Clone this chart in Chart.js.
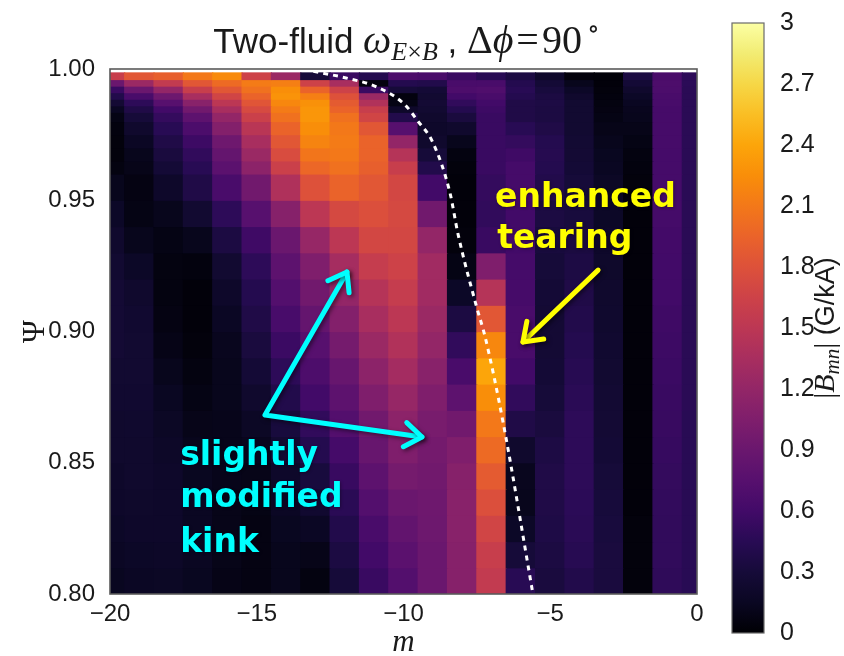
<!DOCTYPE html>
<html>
<head>
<meta charset="utf-8">
<title>Two-fluid B_mn spectrum</title>
<script src="https://cdn.jsdelivr.net/npm/chart.js@4.4.1/dist/chart.umd.min.js"></script>
<style>
  html, body { margin: 0; padding: 0; background: #fff; }
  #wrap { position: relative; width: 844px; height: 656px; }
  #main { position: absolute; left: 0; top: 0; }
  #cbar { position: absolute; left: 715px; top: 0; }
</style>
</head>
<body>
<div id="wrap">
  <canvas id="main" width="715" height="656"></canvas>
  <canvas id="cbar" width="129" height="656"></canvas>
</div>
<script>
// poloidal mode numbers (one column each)
const M_VALUES = [-20, -19, -18, -17, -16, -15, -14, -13, -12, -11, -10, -9, -8, -7, -6, -5, -4, -3, -2, -1, 0];

// radial cell edges, top -> bottom (finer near the edge)
const PSI_EDGES = [0.9985, 0.996, 0.9935, 0.991, 0.9885, 0.986, 0.9835, 0.98, 0.975, 0.97, 0.965, 0.96,
  0.95, 0.94, 0.93, 0.92, 0.91, 0.90, 0.89, 0.88, 0.87, 0.86, 0.85, 0.84, 0.83, 0.82, 0.81, 0.80];

// |B_mn| (G/kA), one row per m, cells top -> bottom
const BMN = [
  [1.6, 0.9, 0.55, 0.4, 0.27, 0.15, 0.08, 0.05, 0.04, 0.04, 0.06, 0.12, 0.18, 0.22, 0.25, 0.27, 0.27, 0.27, 0.25, 0.24, 0.22, 0.22, 0.2, 0.2, 0.18, 0.16, 0.14],   // -20
  [1.85, 1.25, 0.9, 0.65, 0.48, 0.38, 0.3, 0.22, 0.16, 0.12, 0.1, 0.07, 0.08, 0.12, 0.18, 0.22, 0.24, 0.25, 0.25, 0.24, 0.23, 0.22, 0.22, 0.21, 0.2, 0.18, 0.16], // -19
  [1.92, 1.55, 1.2, 0.92, 0.75, 0.6, 0.52, 0.45, 0.38, 0.33, 0.28, 0.2, 0.12, 0.08, 0.06, 0.06, 0.07, 0.09, 0.12, 0.15, 0.17, 0.19, 0.2, 0.2, 0.2, 0.19, 0.17],  // -18
  [2.1, 1.85, 1.6, 1.35, 1.12, 0.95, 0.8, 0.67, 0.57, 0.5, 0.45, 0.38, 0.25, 0.12, 0.05, 0.03, 0.03, 0.04, 0.06, 0.08, 0.1, 0.12, 0.14, 0.15, 0.15, 0.15, 0.14],  // -17
  [2.22, 2.0, 1.85, 1.68, 1.5, 1.35, 1.2, 1.08, 0.93, 0.85, 0.78, 0.65, 0.48, 0.35, 0.25, 0.2, 0.16, 0.13, 0.12, 0.12, 0.11, 0.11, 0.11, 0.1, 0.1, 0.1, 0.09],   // -16
  [1.65, 2.12, 2.05, 1.95, 1.83, 1.73, 1.62, 1.48, 1.35, 1.25, 1.15, 0.95, 0.75, 0.58, 0.48, 0.42, 0.38, 0.33, 0.28, 0.22, 0.17, 0.13, 0.1, 0.08, 0.07, 0.07, 0.07], // -15
  [1.25, 2.15, 2.25, 2.28, 2.2, 2.12, 2.05, 1.95, 1.85, 1.75, 1.62, 1.4, 1.1, 0.9, 0.8, 0.72, 0.64, 0.56, 0.48, 0.4, 0.32, 0.25, 0.2, 0.16, 0.14, 0.12, 0.12],    // -14
  [0.3, 1.65, 1.95, 2.15, 2.27, 2.3, 2.3, 2.25, 2.18, 2.08, 1.98, 1.8, 1.5, 1.22, 1.05, 0.95, 0.85, 0.75, 0.68, 0.6, 0.5, 0.42, 0.32, 0.24, 0.16, 0.1, 0.06],     // -13
  [0.55, 1.35, 1.65, 1.8, 1.88, 1.95, 2.05, 2.1, 2.12, 2.1, 2.05, 1.95, 1.72, 1.5, 1.33, 1.2, 1.08, 0.98, 0.88, 0.8, 0.72, 0.62, 0.54, 0.46, 0.4, 0.35, 0.3],    // -12
  [0.42, 0.05, 0.55, 1.25, 1.42, 1.6, 1.68, 1.85, 1.95, 1.95, 1.92, 1.85, 1.78, 1.7, 1.58, 1.45, 1.35, 1.25, 1.15, 1.05, 0.95, 0.88, 0.8, 0.72, 0.65, 0.6, 0.55], // -11
  [0.68, 0.42, 0.3, 0.05, 0.08, 0.2, 0.4, 0.75, 1.2, 1.45, 1.6, 1.7, 1.72, 1.7, 1.65, 1.58, 1.5, 1.42, 1.32, 1.22, 1.15, 1.05, 0.98, 0.9, 0.84, 0.78, 0.72],     // -10
  [0.65, 0.4, 0.28, 0.25, 0.27, 0.25, 0.22, 0.2, 0.22, 0.3, 0.4, 0.6, 0.95, 1.2, 1.3, 1.3, 1.25, 1.2, 1.12, 1.05, 1.0, 0.97, 0.95, 0.93, 0.92, 0.9, 0.9],        // -9
  [0.55, 0.65, 0.68, 0.6, 0.5, 0.42, 0.33, 0.22, 0.12, 0.06, 0.04, 0.03, 0.03, 0.04, 0.08, 0.18, 0.35, 0.5, 0.65, 0.8, 0.95, 1.05, 1.1, 1.12, 1.12, 1.1, 1.1],   // -8
  [0.45, 0.65, 0.7, 0.65, 0.6, 0.57, 0.55, 0.55, 0.55, 0.55, 0.55, 0.52, 0.5, 0.55, 1.05, 1.45, 1.85, 2.2, 2.4, 2.25, 2.1, 2.0, 1.88, 1.78, 1.68, 1.6, 1.55],   // -7
  [0.35, 0.42, 0.45, 0.42, 0.38, 0.38, 0.38, 0.45, 0.52, 0.58, 0.62, 0.62, 0.6, 0.6, 0.62, 0.63, 0.65, 0.65, 0.6, 0.5, 0.38, 0.22, 0.13, 0.12, 0.18, 0.3, 0.45], // -6
  [0.2, 0.28, 0.32, 0.35, 0.36, 0.35, 0.35, 0.38, 0.42, 0.43, 0.42, 0.4, 0.35, 0.32, 0.3, 0.28, 0.27, 0.27, 0.28, 0.3, 0.33, 0.36, 0.38, 0.38, 0.37, 0.35, 0.33], // -5
  [0.03, 0.12, 0.18, 0.22, 0.25, 0.25, 0.25, 0.25, 0.26, 0.27, 0.28, 0.3, 0.32, 0.34, 0.36, 0.38, 0.4, 0.42, 0.44, 0.46, 0.48, 0.48, 0.48, 0.47, 0.46, 0.44, 0.4], // -4
  [0.02, 0.03, 0.04, 0.05, 0.06, 0.07, 0.08, 0.1, 0.12, 0.14, 0.15, 0.17, 0.18, 0.2, 0.21, 0.22, 0.23, 0.24, 0.25, 0.26, 0.27, 0.28, 0.3, 0.31, 0.32, 0.33, 0.33], // -3
  [0.35, 0.28, 0.22, 0.18, 0.15, 0.13, 0.12, 0.1, 0.08, 0.06, 0.05, 0.04, 0.03, 0.03, 0.03, 0.03, 0.03, 0.03, 0.03, 0.03, 0.03, 0.03, 0.03, 0.03, 0.04, 0.04, 0.04], // -2
  [0.65, 0.68, 0.67, 0.65, 0.64, 0.63, 0.63, 0.63, 0.63, 0.62, 0.62, 0.62, 0.62, 0.61, 0.6, 0.6, 0.58, 0.57, 0.56, 0.55, 0.54, 0.53, 0.52, 0.51, 0.5, 0.5, 0.49], // -1
  [0.48, 0.47, 0.46, 0.46, 0.46, 0.46, 0.46, 0.46, 0.46, 0.46, 0.46, 0.46, 0.46, 0.46, 0.46, 0.46, 0.46, 0.46, 0.46, 0.46, 0.45, 0.45, 0.45, 0.45, 0.45, 0.45, 0.45]  // 0
];

// dashed resonance curve
const CURVE_M   = [-13.07, -11.96, -10.9, -9.98, -9.5, -9.0, -8.42, -8.14, -7.5, -7.22, -6.6, -5.59];
const CURVE_PSI = [0.9991, 0.9966, 0.9931, 0.9867, 0.980, 0.972, 0.953, 0.937, 0.909, 0.898, 0.865, 0.800];

const X_TICKS = [-20, -15, -10, -5, 0];
const Y_TICKS = [0.80, 0.85, 0.90, 0.95, 1.00];
const CB_TICKS = [0, 0.3, 0.6, 0.9, 1.2, 1.5, 1.8, 2.1, 2.4, 2.7, 3];
const CB_MAX = 3;

const SANS = "'Liberation Sans', Arial, sans-serif";
const SERIF = "'Liberation Serif', 'DejaVu Serif', serif";
const BOLD = "'DejaVu Sans', sans-serif";
const INK = '#1a1a1a';

// inferno colormap anchors, t = 0 .. 1 in steps of 0.05
const INFERNO = [
  [0, 0, 4], [10, 7, 34], [22, 11, 57], [40, 11, 84], [66, 10, 104], [87, 16, 110], [106, 23, 110],
  [127, 30, 108], [147, 38, 103], [168, 46, 95], [188, 55, 84], [205, 66, 72], [221, 81, 58],
  [234, 99, 42], [243, 120, 25], [249, 142, 9], [252, 165, 10], [250, 190, 36], [246, 215, 70],
  [242, 236, 115], [252, 255, 164]
];

function inferno(t) {
  t = Math.min(1, Math.max(0, t));
  const f = t * (INFERNO.length - 1);
  const i = Math.min(INFERNO.length - 2, Math.floor(f));
  const k = f - i;
  const a = INFERNO[i], b = INFERNO[i + 1];
  const c = a.map((v, j) => Math.round(v + (b[j] - v) * k));
  return `rgb(${c[0]},${c[1]},${c[2]})`;
}

// draws a run of differently styled pieces of text, centred on cx
function drawRich(ctx, parts, cx, baseline) {
  let total = 0;
  parts.forEach(p => {
    ctx.font = p.font;
    p.w = ctx.measureText(p.text).width;
    total += p.w + (p.gap || 0);
  });
  let x = cx - total / 2;
  ctx.textAlign = 'left';
  ctx.textBaseline = 'alphabetic';
  parts.forEach(p => {
    ctx.font = p.font;
    ctx.fillText(p.text, x, baseline + (p.dy || 0));
    x += p.w + (p.gap || 0);
  });
}

function drawArrowHead(ctx, fromX, fromY, tipX, tipY, len) {
  const ang = Math.atan2(tipY - fromY, tipX - fromX);
  const spread = 0.62;
  ctx.beginPath();
  ctx.moveTo(tipX - len * Math.cos(ang - spread), tipY - len * Math.sin(ang - spread));
  ctx.lineTo(tipX, tipY);
  ctx.lineTo(tipX - len * Math.cos(ang + spread), tipY - len * Math.sin(ang + spread));
  ctx.stroke();
}

// one floating-bar dataset per radial row
const heatDatasets = PSI_EDGES.slice(0, -1).map((top, r) => ({
  type: 'bar',
  data: M_VALUES.map(m => ({ x: m, y: [PSI_EDGES[r + 1], top] })),
  backgroundColor: M_VALUES.map((m, i) => inferno(BMN[i][r] / CB_MAX)),
  borderWidth: 0,
  inflateAmount: 0.6,
  barPercentage: 1,
  categoryPercentage: 1,
  order: 1
}));

const curveDataset = {
  type: 'line',
  data: CURVE_M.map((m, i) => ({ x: m, y: CURVE_PSI[i] })),
  borderColor: '#ffffff',
  borderWidth: 3,
  borderDash: [5, 5],
  pointRadius: 0,
  cubicInterpolationMode: 'monotone',
  fill: false,
  order: 0
};

const overlayPlugin = {
  id: 'overlay',
  afterDatasetsDraw(chart) {
    const { ctx, chartArea: a, scales } = chart;
    const px = m => scales.x.getPixelForValue(m);
    const py = p => scales.y.getPixelForValue(p);

    ctx.save();
    ctx.strokeStyle = '#5a5a5a';
    ctx.lineWidth = 1.6;
    ctx.strokeRect(a.left, a.top, a.right - a.left, a.bottom - a.top);
    ctx.restore();

    ctx.save();
    ctx.lineCap = 'round';
    ctx.lineJoin = 'round';
    ctx.shadowColor = 'rgba(0,0,0,0.5)';
    ctx.shadowBlur = 4;
    ctx.shadowOffsetX = 2;
    ctx.shadowOffsetY = 2;

    // yellow arrow -> enhanced tearing
    ctx.strokeStyle = '#ffff00';
    ctx.lineWidth = 5;
    const yt = [px(-3.37), py(0.9234)], yh = [px(-5.93), py(0.896)];
    ctx.beginPath();
    ctx.moveTo(yt[0], yt[1]);
    ctx.lineTo(yh[0], yh[1]);
    ctx.stroke();
    drawArrowHead(ctx, yt[0], yt[1], yh[0], yh[1], 21);

    // cyan double arrow -> kink
    ctx.strokeStyle = '#00ffff';
    const v = [px(-14.72), py(0.8682)];
    const t1 = [px(-11.925), py(0.9227)];
    const t2 = [px(-9.37), py(0.8598)];
    ctx.beginPath();
    ctx.moveTo(t1[0], t1[1]);
    ctx.lineTo(v[0], v[1]);
    ctx.lineTo(t2[0], t2[1]);
    ctx.stroke();
    drawArrowHead(ctx, v[0], v[1], t1[0], t1[1], 21);
    drawArrowHead(ctx, v[0], v[1], t2[0], t2[1], 21);

    ctx.shadowBlur = 3;
    ctx.shadowOffsetX = 1;
    ctx.shadowOffsetY = 1;
    ctx.shadowColor = 'rgba(0,0,0,0.35)';
    ctx.font = `bold 33px ${BOLD}`;
    ctx.textAlign = 'left';
    ctx.textBaseline = 'alphabetic';
    ctx.fillStyle = '#ffff00';
    ctx.fillText('enhanced', px(-6.88), py(0.9474));
    ctx.fillText('tearing', px(-6.81), py(0.9318));
    ctx.fillStyle = '#00ffff';
    ctx.fillText('slightly', px(-17.61), py(0.8491));
    ctx.fillText('modified', px(-17.61), py(0.8331));
    ctx.fillText('kink', px(-17.61), py(0.8160));
    ctx.restore();
  },
  afterDraw(chart) {
    const { ctx, chartArea: a } = chart;
    const cx = (a.left + a.right) / 2;
    ctx.save();
    ctx.fillStyle = INK;
    drawRich(ctx, [
      { text: 'Two-fluid ', font: `35px ${SANS}` },
      { text: 'ω', font: `italic 40px ${SERIF}` },
      { text: 'E', font: `italic 26px ${SERIF}`, dy: 7 },
      { text: '×', font: `26px ${SERIF}`, dy: 7 },
      { text: 'B', font: `italic 26px ${SERIF}`, dy: 7 },
      { text: ' , ', font: `35px ${SANS}` },
      { text: 'Δ', font: `40px ${SERIF}` },
      { text: 'ϕ', font: `italic 40px ${SERIF}`, gap: 3 },
      { text: '=', font: `40px ${SERIF}`, gap: 3 },
      { text: '90', font: `40px ${SERIF}`, gap: 5 },
      { text: '∘', font: `26px ${SERIF}`, dy: -16 }
    ], cx + 3, 53);

    drawRich(ctx, [{ text: 'm', font: `italic 31px ${SERIF}` }], cx, 651);

    ctx.translate(44, (a.top + a.bottom) / 2);
    ctx.rotate(-Math.PI / 2);
    drawRich(ctx, [{ text: 'Ψ', font: `31px ${SERIF}` }], 0, 0);
    ctx.restore();
  }
};

new Chart(document.getElementById('main'), {
  type: 'bar',
  data: { datasets: [...heatDatasets, curveDataset] },
  options: {
    responsive: false,
    animation: false,
    layout: { padding: { top: 69, right: 18, bottom: 0, left: 0 } },
    plugins: { legend: { display: false }, tooltip: { enabled: false }, title: { display: false } },
    scales: {
      x: {
        type: 'linear',
        min: -20,
        max: 0,
        offset: false,
        stacked: true,
        grid: { display: false, offset: false },
        border: { display: false },
        afterBuildTicks: s => { s.ticks = X_TICKS.map(v => ({ value: v })); },
        afterFit: s => { s.height = 62; },
        ticks: {
          color: INK,
          padding: -2,
          maxRotation: 0,
          font: { family: SANS, size: 24 },
          callback: v => (v < 0 ? '\u2212' + Math.abs(v) : String(v))
        }
      },
      y: {
        type: 'linear',
        min: 0.8,
        max: 1.0,
        stacked: false,
        grid: { display: false },
        border: { display: false },
        afterBuildTicks: s => { s.ticks = Y_TICKS.map(v => ({ value: v })); },
        afterFit: s => { s.width = 110; },
        ticks: {
          color: INK,
          padding: 7,
          font: { family: SANS, size: 24 },
          callback: v => Number(v).toFixed(2)
        }
      }
    }
  },
  plugins: [overlayPlugin]
});

// colour bar
const colorbarPlugin = {
  id: 'colorbar',
  beforeDatasetsDraw(chart) {
    const { ctx, chartArea: a, scales } = chart;
    const y0 = scales.y.getPixelForValue(0), y1 = scales.y.getPixelForValue(CB_MAX);
    const g = ctx.createLinearGradient(0, y0, 0, y1);
    INFERNO.forEach((c, i) => g.addColorStop(i / (INFERNO.length - 1), `rgb(${c[0]},${c[1]},${c[2]})`));
    ctx.save();
    ctx.fillStyle = g;
    ctx.fillRect(a.left, y1, a.right - a.left, y0 - y1);
    ctx.strokeStyle = '#6a6a6a';
    ctx.lineWidth = 1.2;
    ctx.strokeRect(a.left, y1, a.right - a.left, y0 - y1);
    ctx.restore();
  },
  afterDraw(chart) {
    const { ctx, chartArea: a } = chart;
    ctx.save();
    ctx.fillStyle = INK;
    ctx.translate(119, (a.top + a.bottom) / 2);
    ctx.rotate(-Math.PI / 2);
    drawRich(ctx, [
      { text: '|', font: `30px ${SERIF}` },
      { text: 'B', font: `italic 30px ${SERIF}` },
      { text: 'mn', font: `italic 21px ${SERIF}`, dy: 5 },
      { text: '|', font: `30px ${SERIF}` },
      { text: ' (G/kA)', font: `27px ${SANS}` }
    ], 0, 0);
    ctx.restore();
  }
};

new Chart(document.getElementById('cbar'), {
  type: 'bar',
  data: { datasets: [] },
  options: {
    responsive: false,
    animation: false,
    layout: { padding: { top: 20, right: 0, bottom: 15, left: 17 } },
    plugins: { legend: { display: false }, tooltip: { enabled: false } },
    scales: {
      x: { display: false },
      y: {
        position: 'right',
        min: 0,
        max: CB_MAX,
        grid: { display: false },
        border: { display: false },
        afterBuildTicks: s => { s.ticks = CB_TICKS.map(v => ({ value: v })); },
        afterFit: s => { s.width = 80; },
        ticks: {
          color: INK,
          padding: 8,
          font: { family: SANS, size: 25 },
          callback: v => String(Math.round(v * 10) / 10)
        }
      }
    }
  },
  plugins: [colorbarPlugin]
});
</script>
</body>
</html>
